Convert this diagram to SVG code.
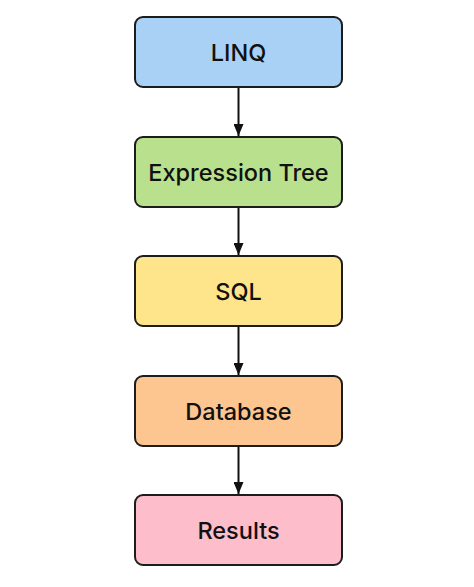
<svg xmlns="http://www.w3.org/2000/svg" width="474" height="587" viewBox="0 0 474 587">
<defs>
<style>
.box{stroke:#1c1c1c;stroke-width:2}
.lbl{font-family:Inter,"Liberation Sans",sans-serif;font-size:23.5px;font-weight:500;fill:#111;text-anchor:middle;dominant-baseline:central}
.conn{stroke:#111;stroke-width:2;fill:none}
</style>
<marker id="ah" viewBox="0 0 12 10" refX="12" refY="5" markerWidth="12" markerHeight="10" markerUnits="userSpaceOnUse" orient="auto">
<path d="M0,0 L12,5 L0,10 z" fill="#111"/>
</marker>
</defs>
<rect width="474" height="587" fill="#fff"/>
<g id="connectors">
<line class="conn" x1="238.5" y1="88" x2="238.5" y2="136" marker-end="url(#ah)"/>
<line class="conn" x1="238.5" y1="208" x2="238.5" y2="255" marker-end="url(#ah)"/>
<line class="conn" x1="238.5" y1="327" x2="238.5" y2="375" marker-end="url(#ah)"/>
<line class="conn" x1="238.5" y1="447" x2="238.5" y2="494" marker-end="url(#ah)"/>
</g>
<g id="linq"><rect class="box" x="135" y="17" width="207" height="70" rx="8" fill="#a9d1f6"/><text class="lbl" x="238.5" y="52">LINQ</text></g>
<g id="expression-tree"><rect class="box" x="135" y="137" width="207" height="70" rx="8" fill="#b9e18d"/><text class="lbl" x="238.5" y="172">Expression Tree</text></g>
<g id="sql"><rect class="box" x="135" y="256" width="207" height="70" rx="8" fill="#fee58b"/><text class="lbl" x="238.5" y="291">SQL</text></g>
<g id="database"><rect class="box" x="135" y="376" width="207" height="70" rx="8" fill="#fdc590"/><text class="lbl" x="238.5" y="411">Database</text></g>
<g id="results"><rect class="box" x="135" y="495" width="207" height="70" rx="8" fill="#fdbdca"/><text class="lbl" x="238.5" y="530">Results</text></g>
</svg>
